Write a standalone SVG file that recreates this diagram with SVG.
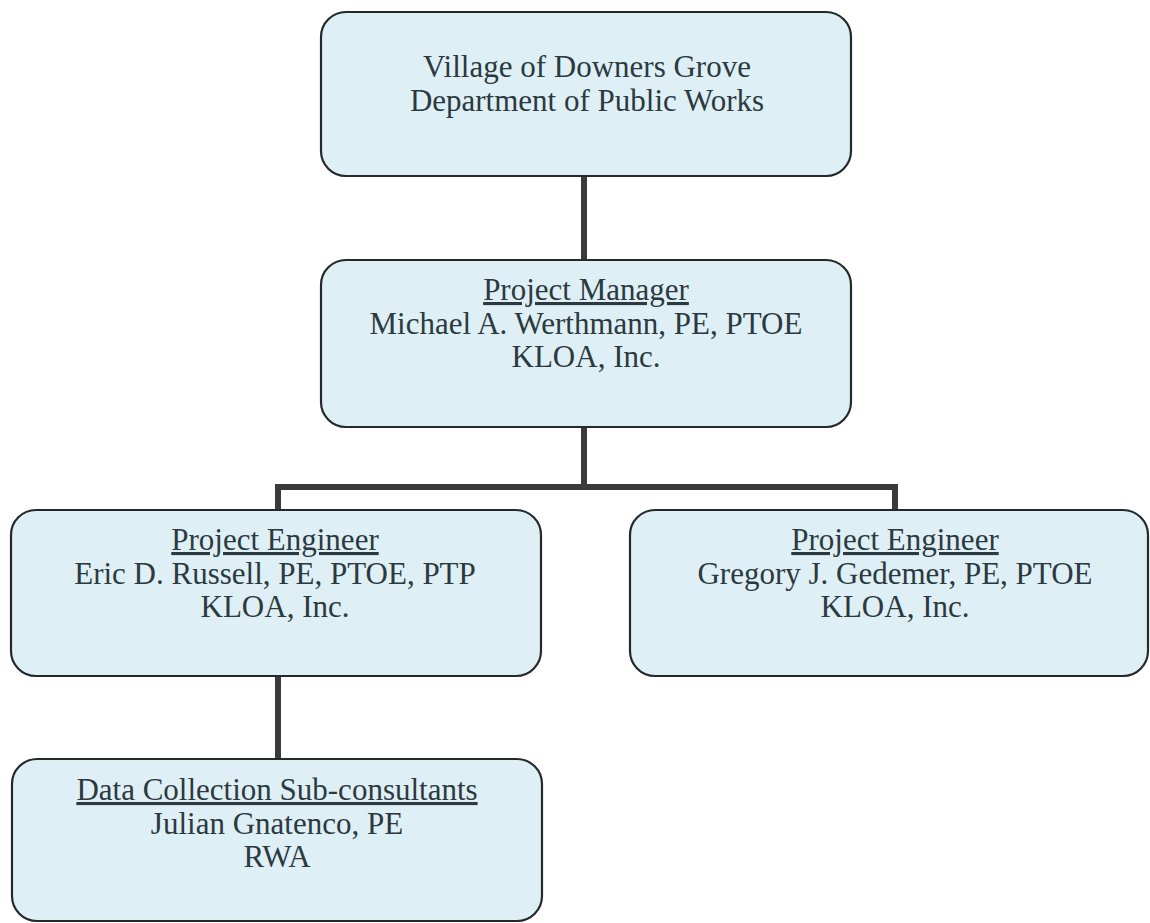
<svg xmlns="http://www.w3.org/2000/svg" width="1150" height="923" viewBox="0 0 1150 923">
<style>
.box{fill:#def0f5;stroke:#25292c;stroke-width:2.2}
.t{font-family:"Liberation Serif","Times New Roman",serif;font-size:31px;fill:#2c393f;text-anchor:middle}
.u{text-decoration:underline}
.c{stroke:#3b3b3b;stroke-width:6;fill:none}
</style>
<rect width="1150" height="923" fill="#ffffff"/>
<g id="connectors">
<line class="c" x1="584" y1="176" x2="584" y2="260"/>
<line class="c" x1="584" y1="427" x2="584" y2="487"/>
<polyline class="c" points="278,510 278,487 895,487 895,510"/>
<line class="c" x1="278" y1="676" x2="278" y2="759"/>
</g>
<g id="n-village">
<rect class="box" x="321" y="12" width="530" height="164" rx="25"/>
<text class="t" x="587" y="77">Village of Downers Grove</text>
<text class="t" x="587" y="111">Department of Public Works</text>
</g>
<g id="n-manager">
<rect class="box" x="321" y="260" width="530" height="167" rx="25"/>
<text class="t u" x="586" y="300">Project Manager</text>
<text class="t" x="586" y="334">Michael A. Werthmann, PE, PTOE</text>
<text class="t" x="586" y="367">KLOA, Inc.</text>
</g>
<g id="n-engineer-left">
<rect class="box" x="11" y="510" width="530" height="166" rx="25"/>
<text class="t u" x="275" y="550">Project Engineer</text>
<text class="t" x="275" y="584">Eric D. Russell, PE, PTOE, PTP</text>
<text class="t" x="275" y="617">KLOA, Inc.</text>
</g>
<g id="n-engineer-right">
<rect class="box" x="630" y="510" width="518" height="166" rx="25"/>
<text class="t u" x="895" y="550">Project Engineer</text>
<text class="t" x="895" y="584">Gregory J. Gedemer, PE, PTOE</text>
<text class="t" x="895" y="617">KLOA, Inc.</text>
</g>
<g id="n-data">
<rect class="box" x="12" y="759" width="530" height="162" rx="25"/>
<text class="t u" x="277" y="800">Data Collection Sub-consultants</text>
<text class="t" x="277" y="834">Julian Gnatenco, PE</text>
<text class="t" x="277" y="867">RWA</text>
</g>
</svg>
